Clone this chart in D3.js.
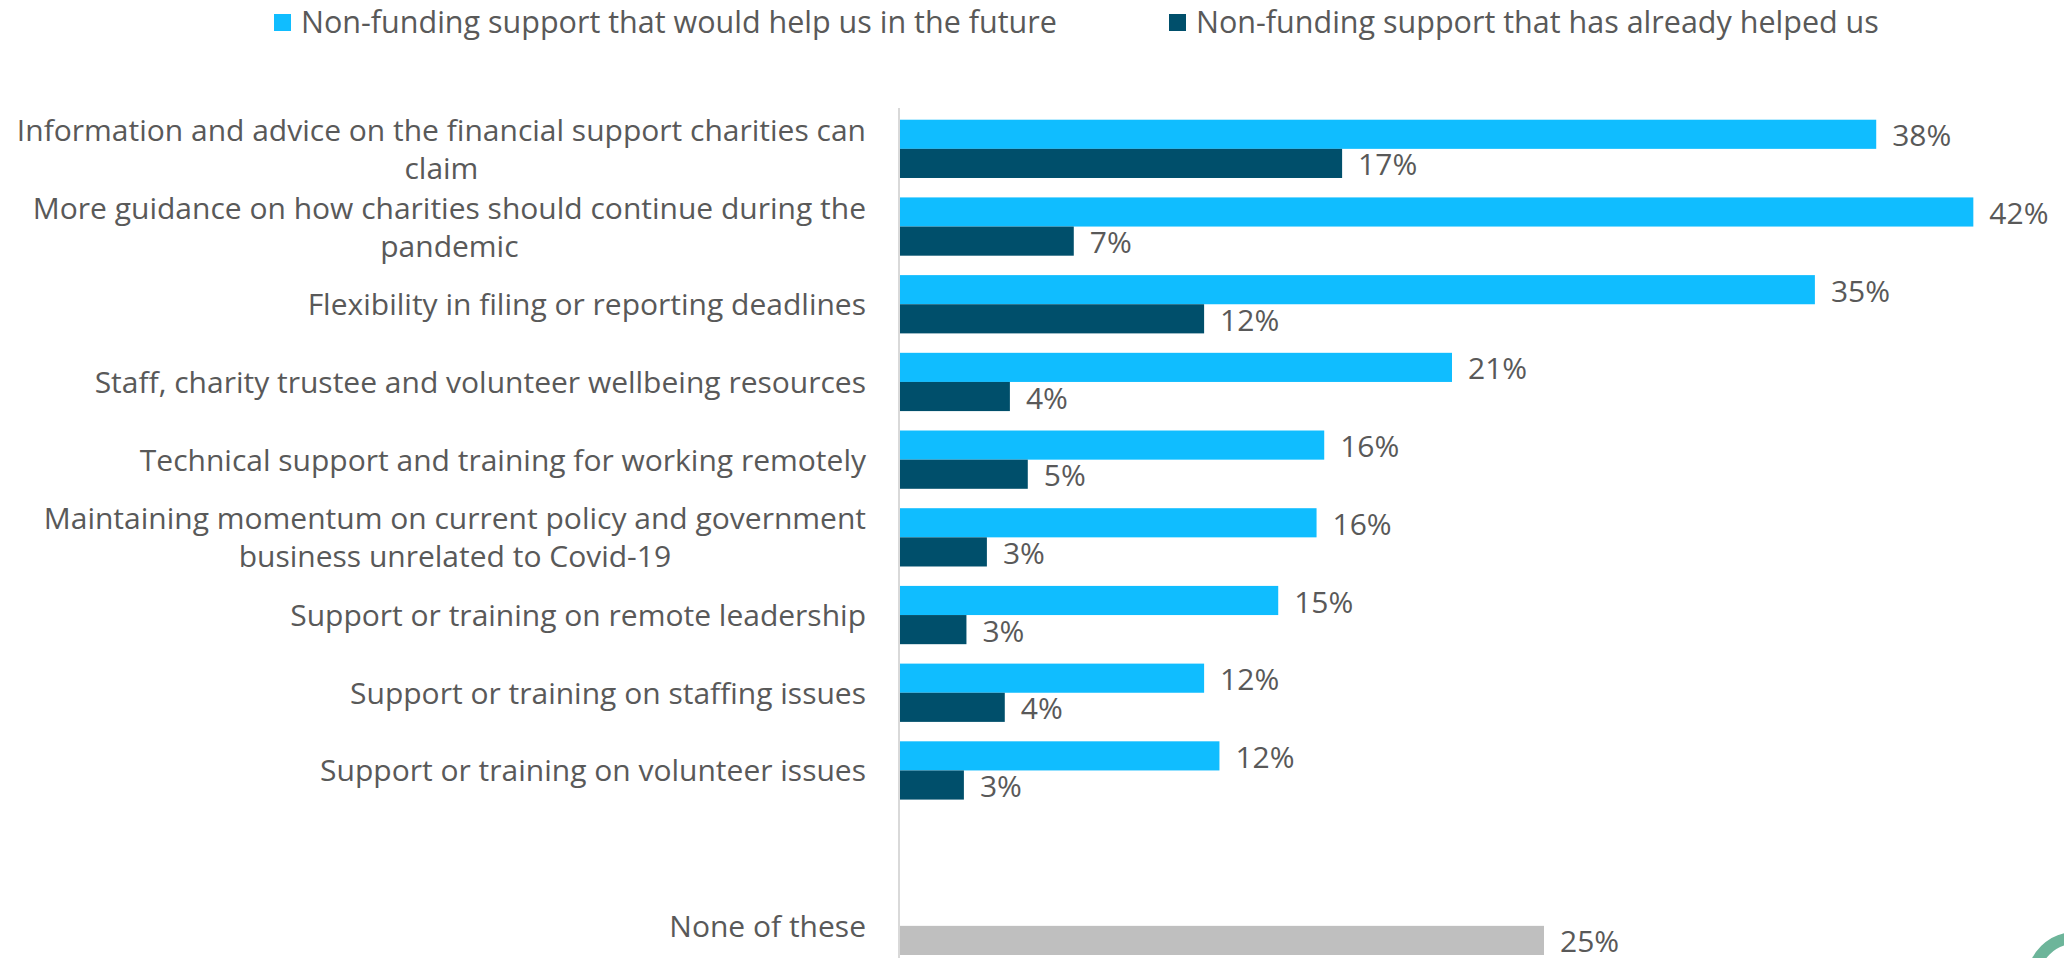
<!DOCTYPE html>
<html>
<head>
<meta charset="utf-8">
<script src="https://cdn.jsdelivr.net/npm/d3@7"></script>
<style>
  body { margin: 0; background: #fff; }
  text { font-family: 'Segoe UI', 'Open Sans', sans-serif; fill: #595959; }
</style>
</head>
<body>
<div id="chart"></div>
<script>
// categories (| marks a line break in the label), '' is the empty spacer row
const categories = [
  'Information and advice on the financial support charities can|claim',
  'More guidance on how charities should continue during the|pandemic',
  'Flexibility in filing or reporting deadlines',
  'Staff, charity trustee and volunteer wellbeing resources',
  'Technical support and training for working remotely',
  'Maintaining momentum on current policy and government|business unrelated to Covid-19',
  'Support or training on remote leadership',
  'Support or training on staffing issues',
  'Support or training on volunteer issues',
  '',
  'None of these'
]
// bar lengths (in %)
const futureValues = [38.2, 42, 35.8, 21.6, 16.6, 16.3, 14.8, 11.9, 12.5, null, null]
const alreadyValues = [17.3, 6.8, 11.9, 4.3, 5.0, 3.4, 2.6, 4.1, 2.5, null, null]
const noneValues = [null, null, null, null, null, null, null, null, null, null, 25.2]
// the printed data labels
const futureLabels = ['38%', '42%', '35%', '21%', '16%', '16%', '15%', '12%', '12%', null, null]
const alreadyLabels = ['17%', '7%', '12%', '4%', '5%', '3%', '3%', '4%', '3%', null, null]
const noneLabels = [null, null, null, null, null, null, null, null, null, null, '25%']
const seriesNames = [
  'Non-funding support that would help us in the future',
  'Non-funding support that has already helped us'
]

const colors = { future: '#10bdff', already: '#004f6b', none: '#bfbfbf' }

const width = 2064
const height = 958
const margin = { top: 110, left: 900, right: 20, bottom: 0 }
const step = 77.7

const svg = d3
  .select('#chart')
  .append('svg')
  .attr('width', width)
  .attr('height', height)

const rows = categories.map((c, i) => ({
  key: 'row' + i,
  label: c,
  index: i
}))

const xPositionScale = d3
  .scaleLinear()
  .domain([0, 45])
  .range([margin.left, margin.left + 1150])

const yPositionScale = d3
  .scaleBand()
  .domain(rows.map(d => d.key))
  .range([margin.top, margin.top + step * categories.length])
  .paddingInner(0.25)
  .paddingOuter(0.125)

const subScale = d3
  .scaleBand()
  .domain(['future', 'already'])
  .range([0, yPositionScale.bandwidth()])

// axis line only
const yAxis = d3.axisLeft(yPositionScale).tickSize(0).tickFormat('')
svg
  .append('g')
  .attr('class', 'axis y-axis')
  .attr('transform', 'translate(' + (margin.left - 1) + ',0)')
  .call(yAxis)
  .call(g => g.select('.domain').attr('stroke', '#d9d9d9').attr('stroke-width', 2)
    .attr('d', 'M0,' + (margin.top - 2) + 'V' + height))

// flatten bars
const bars = []
rows.forEach((d, i) => {
  if (futureValues[i] != null) bars.push({ key: d.key, slot: 'future', value: futureValues[i], label: futureLabels[i], color: colors.future })
  if (alreadyValues[i] != null) bars.push({ key: d.key, slot: 'already', value: alreadyValues[i], label: alreadyLabels[i], color: colors.already })
  if (noneValues[i] != null) bars.push({ key: d.key, slot: 'already', value: noneValues[i], label: noneLabels[i], color: colors.none })
})

const barH = subScale.bandwidth()

svg
  .selectAll('.bar')
  .data(bars)
  .enter()
  .append('rect')
  .attr('class', 'bar')
  .attr('x', xPositionScale(0))
  .attr('y', d => yPositionScale(d.key) + subScale(d.slot))
  .attr('width', d => xPositionScale(d.value) - xPositionScale(0))
  .attr('height', barH)
  .attr('fill', d => d.color)

svg
  .selectAll('.value-label')
  .data(bars)
  .enter()
  .append('text')
  .attr('class', 'value-label')
  .attr('x', d => xPositionScale(d.value) + 16)
  .attr('y', d => yPositionScale(d.key) + subScale(d.slot) + barH / 2 + 4)
  .attr('dominant-baseline', 'middle')
  .style('font-size', '30px')
  .text(d => d.label)

// category labels: block right aligned, lines centred inside it
const labelRight = 866
const lineH = 38
const labels = svg
  .selectAll('.cat-label')
  .data(rows.filter(d => d.label !== ''))
  .enter()
  .append('text')
  .attr('class', 'cat-label')
  .style('font-size', '30px')
  .attr('text-anchor', 'middle')
  .attr('dominant-baseline', 'middle')

labels.each(function(d) {
  const t = d3.select(this)
  const lines = d.label.split('|')
  const cy = yPositionScale(d.key) + yPositionScale.bandwidth() / 2 + 3
  lines.forEach((line, i) => {
    t.append('tspan')
      .attr('y', cy + (i - (lines.length - 1) / 2) * lineH)
      .text(line)
  })
  let maxW = 0
  t.selectAll('tspan').each(function() {
    maxW = Math.max(maxW, this.getComputedTextLength())
  })
  t.selectAll('tspan').attr('x', labelRight - maxW / 2)
})

// legend
const legendX = [274, 1169]
const legend = svg
  .selectAll('.legend')
  .data(seriesNames)
  .enter()
  .append('g')
  .attr('class', 'legend')
  .attr('transform', (d, i) => 'translate(' + legendX[i] + ',14)')
legend
  .append('rect')
  .attr('width', 17)
  .attr('height', 17)
  .attr('fill', (d, i) => (i === 0 ? colors.future : colors.already))
legend
  .append('text')
  .attr('x', 27)
  .attr('y', 11)
  .attr('dominant-baseline', 'middle')
  .style('font-size', '30.5px')
  .text(d => d)

// corner logo fragment
svg
  .append('circle')
  .attr('cx', 2075)
  .attr('cy', 980)
  .attr('r', 42)
  .attr('fill', 'none')
  .attr('stroke', '#6db59a')
  .attr('stroke-width', 12)
</script>
</body>
</html>
